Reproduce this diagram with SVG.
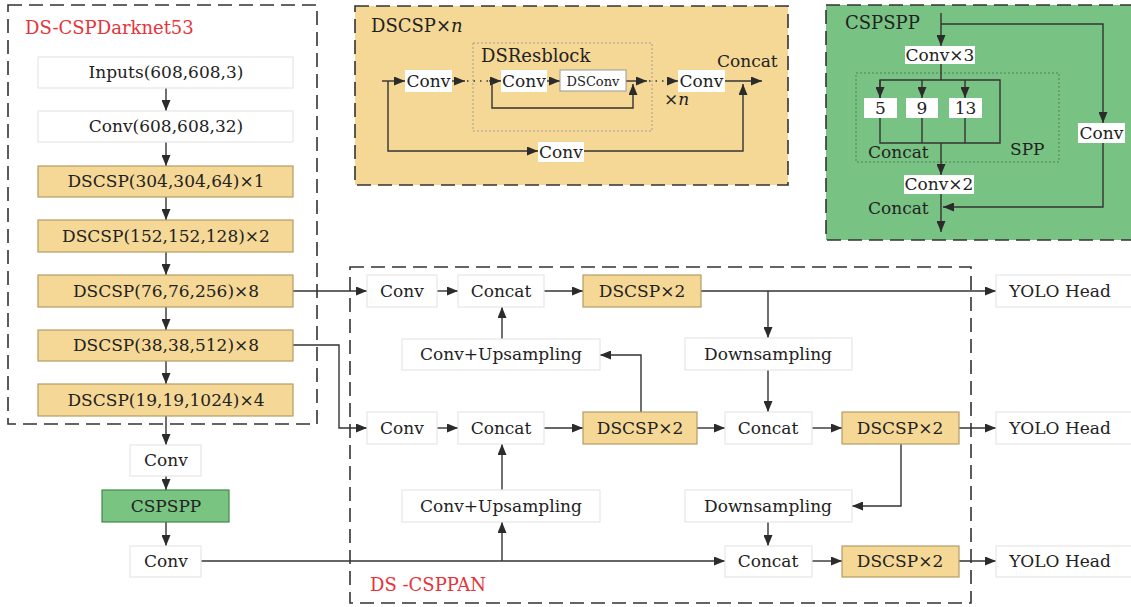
<svg xmlns="http://www.w3.org/2000/svg" width="1131" height="607" viewBox="0 0 1131 607">
  <style>
    text { font-family: "DejaVu Serif", "Liberation Serif", serif; font-size: 17px; fill: #222; }
    .c { text-anchor: middle; }
    .red { fill: #e8323a; font-size: 18px; }
    .title { font-size: 18px; }
    .small { font-size: 13px; }
    .wbox { fill: #ffffff; stroke: #e6e6e6; stroke-width: 1.2; }
    .wbg { fill: #ffffff; stroke: none; }
    .tan { fill: #f5d896; stroke: #b59c66; stroke-width: 1.2; }
    .green { fill: #7ac482; stroke: #3f8a4a; stroke-width: 1.2; }
    .frame { fill: none; stroke: #333; stroke-width: 1.6; stroke-dasharray: 14 7; }
    .dot { fill: none; stroke-width: 0.9; stroke-dasharray: 2 2; }
    .ln { fill: none; stroke: #333; stroke-width: 1.4; }
    .dotted { fill: none; stroke: #333; stroke-width: 1.6; stroke-dasharray: 1.5 5; }
  </style>
  <defs>
    <marker id="ah" markerUnits="userSpaceOnUse" markerWidth="11" markerHeight="9" refX="11" refY="4.5" orient="auto">
      <path d="M0,0 L11,4.5 L0,9 z" fill="#2b2b2b"/>
    </marker>
  </defs>

  <!-- panels -->
  <g id="panel-dscsp">
    <rect x="355" y="6" width="433" height="179" fill="#f5d896" stroke="#333" stroke-width="1.6" stroke-dasharray="14 7"/>
    <text x="371" y="32" class="title">DSCSP×<tspan font-style="italic">n</tspan></text>
    <rect x="473" y="43" width="179" height="88" class="dot" stroke="#999"/>
    <text x="481" y="62" class="title">DSResblock</text>
  </g>
  <g id="panel-cspspp">
    <rect x="826" y="5" width="310" height="235" fill="#78c383" stroke="#333" stroke-width="1.6" stroke-dasharray="14 7"/>
    <text x="845" y="29" class="title">CSPSPP</text>
    <rect x="856" y="73" width="203" height="89" class="dot" stroke="#4a7c52"/>
  </g>
  <g id="panel-backbone">
    <rect x="8" y="5" width="309" height="419" class="frame"/>
    <text x="25" y="34" class="red">DS-CSPDarknet53</text>
  </g>
  <g id="panel-neck">
    <rect x="350" y="267" width="621" height="336" class="frame"/>
    <text x="370" y="591" class="red">DS -CSPPAN</text>
  </g>

  <!-- connectors -->
  <g id="connectors">
    <!-- backbone column -->
    <line x1="166" y1="88" x2="166" y2="111" class="ln" marker-end="url(#ah)"/>
    <line x1="166" y1="142" x2="166" y2="166" class="ln" marker-end="url(#ah)"/>
    <line x1="166" y1="197" x2="166" y2="220" class="ln" marker-end="url(#ah)"/>
    <line x1="166" y1="252" x2="166" y2="275" class="ln" marker-end="url(#ah)"/>
    <line x1="166" y1="307" x2="166" y2="330" class="ln" marker-end="url(#ah)"/>
    <line x1="166" y1="361" x2="166" y2="384" class="ln" marker-end="url(#ah)"/>
    <line x1="166" y1="416" x2="166" y2="445" class="ln" marker-end="url(#ah)"/>
    <line x1="166" y1="476" x2="166" y2="490" class="ln" marker-end="url(#ah)"/>
    <line x1="166" y1="522" x2="166" y2="546" class="ln" marker-end="url(#ah)"/>

    <!-- backbone to neck -->
    <line x1="293" y1="291" x2="367" y2="291" class="ln" marker-end="url(#ah)"/>
    <polyline points="293,345 339,345 339,428 367,428" class="ln" marker-end="url(#ah)"/>
    <line x1="201" y1="561" x2="725" y2="561" class="ln" marker-end="url(#ah)"/>
    <line x1="502" y1="561" x2="502" y2="522" class="ln" marker-end="url(#ah)"/>

    <!-- row 1 -->
    <line x1="437" y1="291" x2="458" y2="291" class="ln" marker-end="url(#ah)"/>
    <line x1="544" y1="291" x2="583" y2="291" class="ln" marker-end="url(#ah)"/>
    <line x1="701" y1="291" x2="996" y2="291" class="ln" marker-end="url(#ah)"/>
    <line x1="768" y1="291" x2="768" y2="338" class="ln" marker-end="url(#ah)"/>
    <line x1="502" y1="339" x2="502" y2="307" class="ln" marker-end="url(#ah)"/>

    <!-- row 2 -->
    <line x1="437" y1="428" x2="458" y2="428" class="ln" marker-end="url(#ah)"/>
    <line x1="544" y1="428" x2="583" y2="428" class="ln" marker-end="url(#ah)"/>
    <line x1="697" y1="428" x2="725" y2="428" class="ln" marker-end="url(#ah)"/>
    <polyline points="641,412 641,355 600,355" class="ln" marker-end="url(#ah)"/>
    <line x1="768" y1="370" x2="768" y2="412" class="ln" marker-end="url(#ah)"/>
    <line x1="812" y1="428" x2="842" y2="428" class="ln" marker-end="url(#ah)"/>
    <line x1="959" y1="428" x2="996" y2="428" class="ln" marker-end="url(#ah)"/>
    <line x1="502" y1="490" x2="502" y2="444" class="ln" marker-end="url(#ah)"/>
    <polyline points="901,444 901,506 852,506" class="ln" marker-end="url(#ah)"/>

    <!-- row 3 -->
    <line x1="768" y1="522" x2="768" y2="546" class="ln" marker-end="url(#ah)"/>
    <line x1="812" y1="561" x2="842" y2="561" class="ln" marker-end="url(#ah)"/>
    <line x1="959" y1="561" x2="996" y2="561" class="ln" marker-end="url(#ah)"/>

    <!-- DSCSP block internals -->
    <line x1="382" y1="81" x2="405" y2="81" class="ln" marker-end="url(#ah)"/>
    <line x1="452" y1="81" x2="465" y2="81" class="ln" marker-end="url(#ah)"/>
    <line x1="467" y1="81" x2="489" y2="81" class="dotted"/>
    <line x1="489" y1="81" x2="501" y2="81" class="ln" marker-end="url(#ah)"/>
    <polyline points="492,81 492,108 633,108 633,84" class="ln" marker-end="url(#ah)"/>
    <line x1="547" y1="81" x2="560" y2="81" class="ln" marker-end="url(#ah)"/>
    <line x1="626" y1="81" x2="647" y2="81" class="ln" marker-end="url(#ah)"/>
    <line x1="649" y1="81" x2="668" y2="81" class="dotted"/>
    <line x1="668" y1="81" x2="678" y2="81" class="ln" marker-end="url(#ah)"/>
    <line x1="725" y1="81" x2="762" y2="81" class="ln" marker-end="url(#ah)"/>
    <polyline points="388,81 388,151 538,151" class="ln" marker-end="url(#ah)"/>
    <polyline points="584,151 743,151 743,84" class="ln" marker-end="url(#ah)"/>

    <!-- CSPSPP internals -->
    <line x1="941" y1="13" x2="941" y2="46" class="ln" marker-end="url(#ah)"/>
    <polyline points="941,24 1103,24 1103,123" class="ln" marker-end="url(#ah)"/>
    <line x1="941" y1="64" x2="941" y2="80" class="ln"/>
    <polyline points="880,98 880,80 1000,80 1000,143 880,143 880,118" class="ln"/>
    <line x1="880" y1="80" x2="880" y2="98" class="ln" marker-end="url(#ah)"/>
    <line x1="922" y1="80" x2="922" y2="98" class="ln" marker-end="url(#ah)"/>
    <line x1="965" y1="80" x2="965" y2="98" class="ln" marker-end="url(#ah)"/>
    <line x1="922" y1="118" x2="922" y2="143" class="ln"/>
    <line x1="965" y1="118" x2="965" y2="143" class="ln"/>
    <line x1="941" y1="143" x2="941" y2="175" class="ln" marker-end="url(#ah)"/>
    <line x1="941" y1="194" x2="941" y2="232" class="ln" marker-end="url(#ah)"/>
    <polyline points="1103,143 1103,207 943,207" class="ln" marker-end="url(#ah)"/>
  </g>

  <!-- backbone nodes -->
  <g id="n-inputs"><rect x="38" y="57" width="255" height="31" class="wbox"/><text x="166" y="78" class="c">Inputs(608,608,3)</text></g>
  <g id="n-conv608"><rect x="38" y="111" width="255" height="31" class="wbox"/><text x="166" y="132" class="c">Conv(608,608,32)</text></g>
  <g id="n-dscsp304"><rect x="38" y="166" width="255" height="31" class="tan"/><text x="166" y="187" class="c">DSCSP(304,304,64)×1</text></g>
  <g id="n-dscsp152"><rect x="38" y="220" width="255" height="32" class="tan"/><text x="166" y="242" class="c">DSCSP(152,152,128)×2</text></g>
  <g id="n-dscsp76"><rect x="38" y="275" width="255" height="32" class="tan"/><text x="166" y="297" class="c">DSCSP(76,76,256)×8</text></g>
  <g id="n-dscsp38"><rect x="38" y="330" width="255" height="31" class="tan"/><text x="166" y="351" class="c">DSCSP(38,38,512)×8</text></g>
  <g id="n-dscsp19"><rect x="38" y="384" width="255" height="32" class="tan"/><text x="166" y="406" class="c">DSCSP(19,19,1024)×4</text></g>
  <g id="n-conv-a"><rect x="130" y="445" width="71" height="31" class="wbox"/><text x="166" y="466" class="c">Conv</text></g>
  <g id="n-cspspp"><rect x="102" y="490" width="127" height="32" class="green"/><text x="166" y="512" class="c">CSPSPP</text></g>
  <g id="n-conv-b"><rect x="130" y="546" width="71" height="31" class="wbox"/><text x="166" y="567" class="c">Conv</text></g>

  <!-- neck nodes -->
  <g id="n-conv-r1"><rect x="367" y="275" width="70" height="32" class="wbox"/><text x="402" y="297" class="c">Conv</text></g>
  <g id="n-concat-r1"><rect x="458" y="275" width="86" height="32" class="wbox"/><text x="501" y="297" class="c">Concat</text></g>
  <g id="n-dscsp-r1"><rect x="583" y="275" width="118" height="32" class="tan"/><text x="642" y="297" class="c">DSCSP×2</text></g>
  <g id="n-up1"><rect x="402" y="339" width="198" height="31" class="wbox"/><text x="501" y="360" class="c">Conv+Upsampling</text></g>
  <g id="n-down1"><rect x="685" y="338" width="167" height="32" class="wbox"/><text x="768" y="360" class="c">Downsampling</text></g>
  <g id="n-conv-r2"><rect x="367" y="412" width="70" height="32" class="wbox"/><text x="402" y="434" class="c">Conv</text></g>
  <g id="n-concat-r2"><rect x="458" y="412" width="86" height="32" class="wbox"/><text x="501" y="434" class="c">Concat</text></g>
  <g id="n-dscsp-r2"><rect x="583" y="412" width="114" height="32" class="tan"/><text x="640" y="434" class="c">DSCSP×2</text></g>
  <g id="n-concat-r2b"><rect x="725" y="412" width="87" height="32" class="wbox"/><text x="768" y="434" class="c">Concat</text></g>
  <g id="n-dscsp-r2b"><rect x="842" y="412" width="117" height="32" class="tan"/><text x="900" y="434" class="c">DSCSP×2</text></g>
  <g id="n-up2"><rect x="402" y="490" width="198" height="32" class="wbox"/><text x="501" y="512" class="c">Conv+Upsampling</text></g>
  <g id="n-down2"><rect x="685" y="490" width="167" height="32" class="wbox"/><text x="768" y="512" class="c">Downsampling</text></g>
  <g id="n-concat-r3"><rect x="725" y="546" width="87" height="31" class="wbox"/><text x="768" y="567" class="c">Concat</text></g>
  <g id="n-dscsp-r3"><rect x="842" y="546" width="117" height="31" class="tan"/><text x="900" y="567" class="c">DSCSP×2</text></g>

  <!-- heads -->
  <g id="n-head1"><rect x="996" y="275" width="140" height="32" class="wbox"/><text x="1060" y="297" class="c">YOLO Head</text></g>
  <g id="n-head2"><rect x="996" y="412" width="140" height="32" class="wbox"/><text x="1060" y="434" class="c">YOLO Head</text></g>
  <g id="n-head3"><rect x="996" y="546" width="140" height="31" class="wbox"/><text x="1060" y="567" class="c">YOLO Head</text></g>

  <!-- DSCSP block nodes -->
  <g id="d-conv1"><rect x="405" y="70" width="47" height="22" class="wbg"/><text x="428.5" y="87" class="c">Conv</text></g>
  <g id="d-conv2"><rect x="501" y="70" width="46" height="22" class="wbg"/><text x="524" y="87" class="c">Conv</text></g>
  <g id="d-dsconv"><rect x="560" y="70" width="66" height="21" fill="#fff" stroke="#999" stroke-width="1"/><text x="593" y="85.5" class="c small">DSConv</text></g>
  <g id="d-conv3"><rect x="678" y="70" width="47" height="22" class="wbg"/><text x="701.5" y="87" class="c">Conv</text></g>
  <g id="d-conv4"><rect x="538" y="142" width="46" height="20" class="wbg"/><text x="561" y="158" class="c">Conv</text></g>
  <text x="664" y="105" font-size="16">×<tspan font-style="italic">n</tspan></text>
  <text x="717" y="67">Concat</text>

  <!-- CSPSPP block nodes -->
  <g id="s-conv3"><rect x="905" y="46" width="70" height="18" class="wbg"/><text x="940" y="61" class="c">Conv×3</text></g>
  <g id="s-p5"><rect x="864" y="98" width="33" height="20" class="wbg"/><text x="880.5" y="114" class="c">5</text></g>
  <g id="s-p9"><rect x="906" y="98" width="32" height="20" class="wbg"/><text x="922" y="114" class="c">9</text></g>
  <g id="s-p13"><rect x="949" y="98" width="33" height="20" class="wbg"/><text x="965.5" y="114" class="c">13</text></g>
  <g id="s-conv2"><rect x="904" y="175" width="70" height="19" class="wbg"/><text x="939" y="190" class="c">Conv×2</text></g>
  <g id="s-conv"><rect x="1078" y="123" width="47" height="20" class="wbg"/><text x="1101.5" y="139" class="c">Conv</text></g>
  <text x="868" y="158">Concat</text>
  <text x="1010" y="155">SPP</text>
  <text x="868" y="214">Concat</text>
</svg>
